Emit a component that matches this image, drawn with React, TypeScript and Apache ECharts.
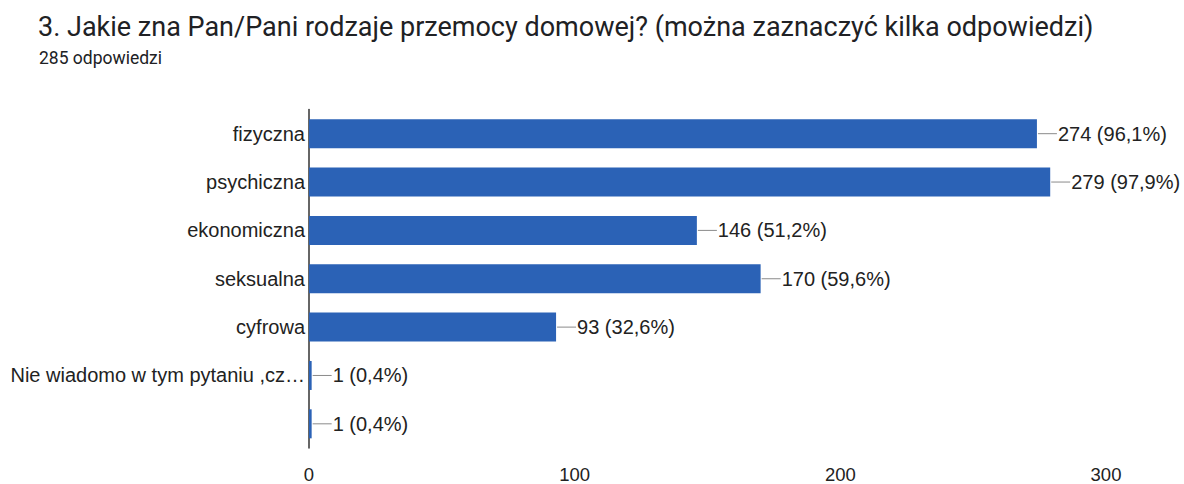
import React, { useEffect, useRef } from "react";
import * as echarts from "echarts";

const categories = [
  "fizyczna",
  "psychiczna",
  "ekonomiczna",
  "seksualna",
  "cyfrowa",
  "Nie wiadomo w tym pytaniu ,cz…",
  "",
];
const values = [274, 279, 146, 170, 93, 1, 1];
const valueLabels = [
  "274 (96,1%)",
  "279 (97,9%)",
  "146 (51,2%)",
  "170 (59,6%)",
  "93 (32,6%)",
  "1 (0,4%)",
  "1 (0,4%)",
];
const xTicks = [0, 100, 200, 300];

export default function App() {
  const ref = useRef<HTMLDivElement>(null);
  useEffect(() => {
    document.body.style.margin = "0";
    const chart = echarts.init(ref.current!, null, { renderer: "svg" });
    chart.setOption({
      animation: false,
      backgroundColor: "#ffffff",
      title: [
        {
          text: "3. Jakie zna Pan/Pani rodzaje przemocy domowej? (można zaznaczyć kilka odpowiedzi)",
          left: 33,
          top: 8,
          textStyle: { fontFamily: "Roboto", fontSize: 27, fontWeight: "normal", color: "#202124" },
        },
        {
          text: "285 odpowiedzi",
          left: 34,
          top: 44,
          textStyle: { fontFamily: "Roboto", fontSize: 17.5, fontWeight: "normal", color: "#202124" },
        },
      ],
      grid: { left: 309, right: 78, top: 109.5, bottom: 31.5, containLabel: false },
      xAxis: {
        type: "value",
        min: xTicks[0],
        max: xTicks[xTicks.length - 1],
        interval: 100,
        axisLine: { show: false },
        axisTick: { show: false },
        splitLine: { show: false },
        axisLabel: { fontFamily: "Liberation Sans", fontSize: 18.5, color: "#222", margin: 17 },
      },
      yAxis: {
        type: "category",
        inverse: true,
        data: categories,
        axisLine: { show: true, lineStyle: { color: "#333", width: 1.5 } },
        axisTick: { show: false },
        axisLabel: { fontFamily: "Liberation Sans", fontSize: 20, color: "#222", margin: 4 },
      },
      series: [
        {
          type: "bar",
          data: values,
          barCategoryGap: "40%",
          itemStyle: { color: "#2b62b6" },
          label: {
            show: true,
            position: "right",
            distance: 1,
            formatter: (p: any) => `{l|}{t|${valueLabels[p.dataIndex]}}`,
            rich: {
              l: { width: 19, height: 1, backgroundColor: "#8a8a8a" },
              t: { fontFamily: "Liberation Sans", fontSize: 20, color: "#222", padding: [0, 0, 0, 1] },
            },
          },
        },
      ],
    });
    return () => chart.dispose();
  }, []);
  return <div ref={ref} style={{ width: 1184, height: 484 }} />;
}
